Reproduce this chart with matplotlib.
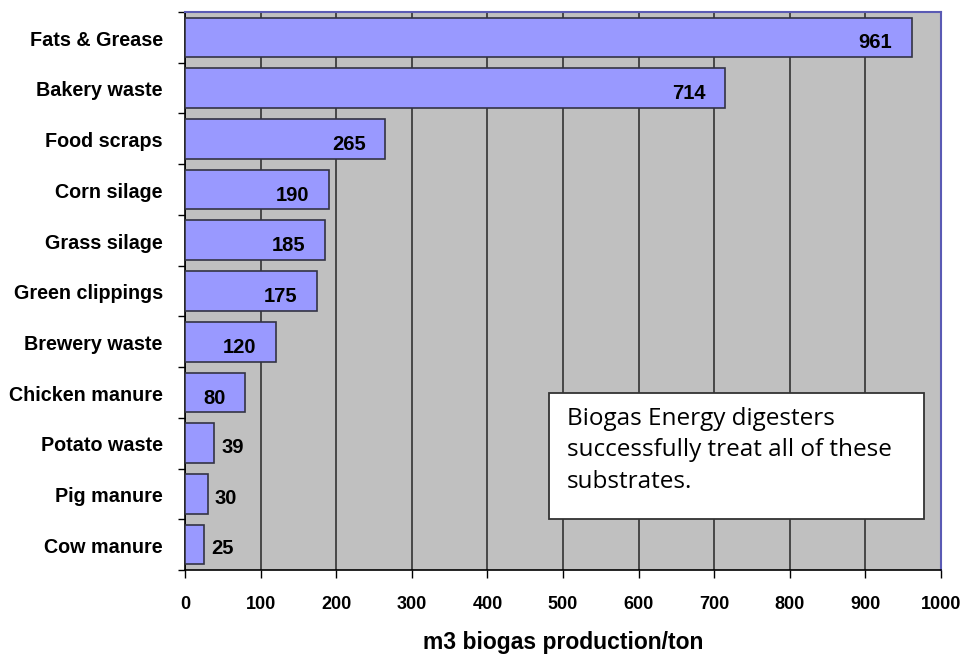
import matplotlib.pyplot as plt
from matplotlib.patches import Rectangle

plt.rcParams['font.family'] = ['Liberation Sans', 'DejaVu Sans']

categories = ['Fats & Grease', 'Bakery waste', 'Food scraps', 'Corn silage', 'Grass silage',
              'Green clippings', 'Brewery waste', 'Chicken manure', 'Potato waste',
              'Pig manure', 'Cow manure']
values = [961, 714, 265, 190, 185, 175, 120, 80, 39, 30, 25]
xticks = list(range(0, 1001, 100))
note = 'Biogas Energy digesters\nsuccessfully treat all of these\nsubstrates.'

fig = plt.figure(figsize=(9.64, 6.54), dpi=100)
ax = fig.add_axes([185 / 964, 1 - 570 / 654, 756 / 964, 558 / 654])
ax.set_facecolor('#c0c0c0')

n = len(categories)
ypos = list(range(n))[::-1]
ax.barh(ypos, values, height=0.78, color='#9999ff', edgecolor='#333344', linewidth=1.2, zorder=3)

ax.set_xlim(0, 1000)
ax.set_ylim(-0.5, n - 0.5)
ax.set_xticks(xticks)
ax.set_xticklabels([str(t) for t in xticks], fontsize=13, fontweight='bold')
ax.xaxis.grid(True, color='#333333', linewidth=1.2, zorder=1)
ax.tick_params(axis='x', direction='out', length=6, width=1, pad=13)

# category labels centred on bars, ticks at slot boundaries
ax.set_yticks([y - 0.5 for y in range(n + 1)])
ax.set_yticklabels([])
ax.tick_params(axis='y', direction='out', length=5, width=1)
for y, c in zip(ypos, categories):
    ax.annotate(c, (0, y), xycoords=('axes fraction', 'data'), xytext=(-16, -2),
                textcoords='offset points', ha='right', va='center',
                fontsize=14.2, fontweight='bold')

for y, v in zip(ypos, values):
    if v > 60:
        ax.annotate(str(v), (v, y), xytext=(-14, -4), textcoords='offset points',
                    ha='right', va='center', fontsize=14.5, fontweight='bold', zorder=5)
    else:
        ax.annotate(str(v), (v, y), xytext=(5, -3), textcoords='offset points',
                    ha='left', va='center', fontsize=14.5, fontweight='bold', zorder=5)

for side in ['left', 'bottom']:
    ax.spines[side].set_color('black')
    ax.spines[side].set_linewidth(1.2)
for side in ['top', 'right']:
    ax.spines[side].set_color('#5a5ab4')
    ax.spines[side].set_linewidth(1.5)

ax.set_xlabel('m3 biogas production/ton', fontsize=16.5, fontweight='bold', labelpad=13)

box = Rectangle((481.5, 0.0914), 496, 0.2258, transform=ax.get_xaxis_transform(),
                facecolor='white', edgecolor='#333333', linewidth=1.3, zorder=6)
ax.add_patch(box)
ax.text(505, 0.293, note, transform=ax.get_xaxis_transform(), fontsize=17.5,
        family=['Open Sans', 'DejaVu Sans'], va='top', ha='left', linespacing=1.42, zorder=7)

fig.savefig('out.png', dpi=100)
